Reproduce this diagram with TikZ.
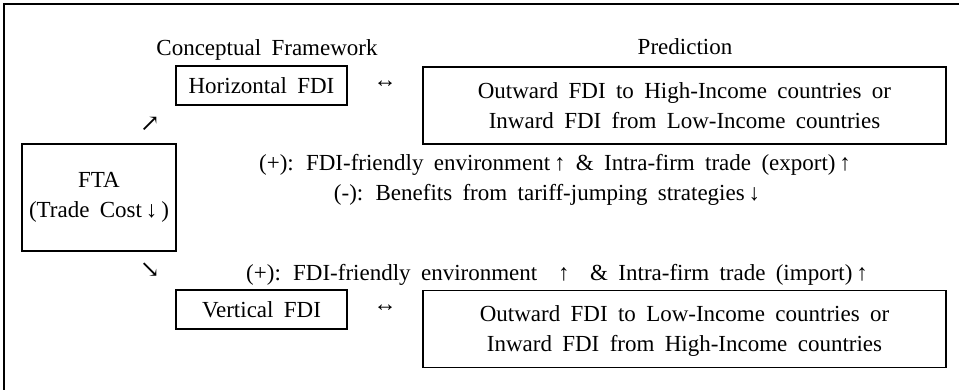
\documentclass[tikz,border=0pt]{standalone}
\usepackage{fontspec}
\setmainfont{Liberation Serif}[WordSpace=1.8]
\newfontfamily\arrowfont{DejaVu Serif}
\begin{document}
\begin{tikzpicture}[x=1pt,y=-1pt,
  every node/.style={font=\fontsize{23}{30}\selectfont, inner sep=0pt},
  framebox/.style={draw, line width=1.1pt, align=center},
  fdibox/.style={framebox, minimum width=171pt, minimum height=39pt},
  predbox/.style={framebox, minimum width=523pt, minimum height=77pt, text depth=0pt},
  glyph/.style={font=\arrowfont\fontsize{24}{24}\selectfont}
]
\useasboundingbox (0,0) rectangle (959,390);
% open frame: top and left edges only
\draw[line width=1.4pt] (4,390) -- (4,4) -- (959,4);

% column headings
\node[anchor=base] (headcf) at (267,56) {Conceptual Framework};
\node[anchor=base] (headpr) at (685,55) {Prediction};

% source box
\node[framebox, minimum width=154pt, minimum height=107pt] (fta) at (99,197.5)
  {FTA\\(Trade Cost\,↓\,)};

% horizontal branch
\node[glyph] (up) at (150,124) {↗};
\node[fdibox] (hfdi) at (261.5,85.5) {Horizontal FDI};
\node (hlink) at (385,84) {↔};
\node[predbox] (hpred) at (684.5,105.5)
  {Outward FDI to High-Income countries or\\Inward FDI from Low-Income countries};
\node[anchor=base] (hplus) at (555,171)
  {(+): FDI-friendly environment\,↑ \& Intra-firm trade (export)\,↑};
\node[anchor=base] (hminus) at (547,201)
  {(-): Benefits from tariff-jumping strategies\,↓};

% vertical branch
\node[glyph] (down) at (150,270) {↘};
\node[anchor=base] (vplus) at (557,280)
  {(+): FDI-friendly environment \ ↑ \ \& Intra-firm trade (import)\,↑};
\node[fdibox] (vfdi) at (261.5,309.5) {Vertical FDI};
\node (vlink) at (385,308) {↔};
\node[predbox] (vpred) at (684.5,329)
  {Outward FDI to Low-Income countries or\\Inward FDI from High-Income countries};
\end{tikzpicture}
\end{document}
